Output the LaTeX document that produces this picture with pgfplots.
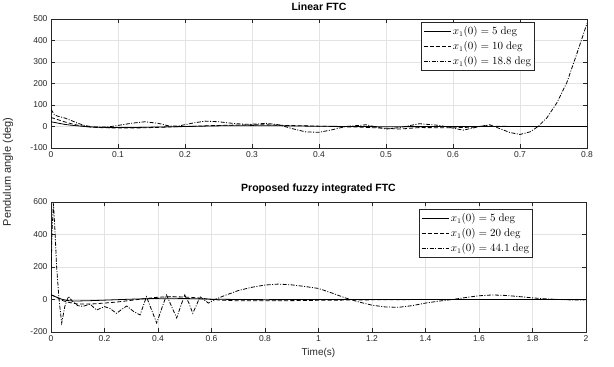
\documentclass[border=0pt]{standalone}
\usepackage[no-math]{fontspec}
\setmainfont{Liberation Sans}
\usepackage{pgfplots}
\pgfplotsset{compat=1.18}
\definecolor{axcol}{HTML}{262626}
\definecolor{gridcol}{HTML}{E3E3E3}
\tikzset{
  dashdot/.style={line width=0.8pt, dash pattern=on 4pt off 1.5pt on 1pt off 1.5pt},
  dsh/.style={line width=0.8pt, dash pattern=on 4pt off 2.2pt},
  sld/.style={line width=0.8pt}
}
\pgfplotsset{
  myax/.style={
    scale only axis,
    anchor=south west,
    axis line style={axcol, line width=0.6pt},
    grid=major,
    major grid style={gridcol, line width=0.6pt},
    tick align=inside,
    major tick length=4pt,
    tick style={axcol, line width=0.6pt},
    ticklabel style={font=\fontsize{8.5}{10}\selectfont, text=axcol},
    /pgf/number format/assume math mode=true,
    /pgf/number format/fixed,
    title style={font=\bfseries\fontsize{10.5}{12}\selectfont, yshift=-1.5pt},
    label style={font=\fontsize{10}{12}\selectfont, text=axcol},
    legend cell align=left,
    legend style={font=\fontsize{10.5}{12}\selectfont, draw=axcol, line width=0.6pt, inner xsep=1.5pt, inner ysep=2pt, row sep=1.5pt},
    legend image code/.code={\draw[#1] (0pt,0pt) -- (27pt,0pt);},
    every axis plot/.append style={black},
  }
}
\begin{document}
\begin{tikzpicture}[x=1pt,y=1pt]
\useasboundingbox (0,0) rectangle (614,367);
\begin{axis}[myax,
  at={(51pt,219pt)}, width=536pt, height=129pt,
  xmin=0, xmax=0.8, ymin=-100, ymax=500,
  xtick={0,0.1,...,0.8}, ytick={-100,0,...,500},
  xticklabels={0,0.1,0.2,0.3,0.4,0.5,0.6,0.7,0.8},
  title={Linear FTC},
  legend style={at={(0.903,0.977)}, anchor=north east},
]
\addplot[sld] coordinates {(0,22) (0.01,16) (0.02,10) (0.03,6) (0.04,3) (0.05,0) (0.06,-2) (0.08,-4) (0.1,-5) (0.12,-5) (0.15,-3) (0.2,0) (0.25,3) (0.3,4) (0.35,3) (0.4,1) (0.45,0) (0.5,-1) (0.6,0) (0.7,0) (0.8,0)};
\addlegendentry{$x_1(0) = 5\ \mathrm{deg}$}
\addplot[dsh] coordinates {(0,42) (0.01,32) (0.02,22) (0.03,13) (0.04,6) (0.05,1) (0.06,-3) (0.08,-6) (0.1,-7) (0.12,-7) (0.14,-6) (0.17,-3) (0.2,0) (0.24,4) (0.28,7) (0.32,8) (0.35,5) (0.38,3) (0.42,0) (0.46,-3) (0.5,-8) (0.52,-12) (0.55,-5) (0.6,-6) (0.63,-3) (0.65,4) (0.66,1) (0.7,0) (0.8,0)};
\addlegendentry{$x_1(0) = 10\ \mathrm{deg}$}
\addplot[dashdot] coordinates {(0,80) (0.005,55) (0.01,48) (0.02,40) (0.03,28) (0.04,15) (0.05,5) (0.06,-1) (0.07,-3) (0.08,-3) (0.09,0) (0.1,5) (0.12,15) (0.14,22) (0.16,15) (0.175,3) (0.19,2) (0.21,15) (0.23,25) (0.25,22) (0.27,15) (0.29,10) (0.31,12) (0.32,15) (0.34,8) (0.36,-10) (0.38,-25) (0.4,-27) (0.42,-15) (0.44,0) (0.47,8) (0.5,-12) (0.52,-5) (0.55,13) (0.58,5) (0.615,-17) (0.64,0) (0.655,8) (0.67,-10) (0.685,-28) (0.7,-37) (0.715,-25) (0.727,0) (0.74,40) (0.755,110) (0.77,205) (0.785,340) (0.8,480)};
\addlegendentry{$x_1(0) = 18.8\ \mathrm{deg}$}
\end{axis}
\begin{axis}[myax,
  at={(51pt,35pt)}, width=535pt, height=130pt,
  xmin=0, xmax=2, ymin=-200, ymax=600,
  xtick={0,0.2,...,2}, ytick={-200,0,...,600},
  xticklabels={0,0.2,0.4,0.6,0.8,1,1.2,1.4,1.6,1.8,2},
  title={Proposed fuzzy integrated FTC},
  xlabel={Time(s)},
  legend style={at={(0.901,0.946)}, anchor=north east},
]
\addplot[sld] coordinates {(0,28) (0.02,15) (0.04,2) (0.06,-6) (0.08,-9) (0.1,-9) (0.15,-7) (0.2,-4) (0.3,2) (0.4,7) (0.45,8) (0.5,6) (0.6,2) (0.7,0) (0.8,-1) (1.0,0) (2,0)};
\addlegendentry{$x_1(0) = 5\ \mathrm{deg}$}
\addplot[dsh] coordinates {(0,30) (0.02,15) (0.04,-5) (0.06,-15) (0.08,-22) (0.1,-28) (0.15,-28) (0.2,-22) (0.25,-15) (0.3,-5) (0.35,5) (0.4,14) (0.45,18) (0.5,15) (0.55,10) (0.6,0) (0.65,-5) (0.7,-8) (0.8,-8) (0.9,-7) (1.0,-5) (1.2,-2) (1.4,0) (2,0)};
\addlegendentry{$x_1(0) = 20\ \mathrm{deg}$}
\addplot[dashdot] coordinates {(0,140) (0.004,420) (0.009,592) (0.015,420) (0.021,202) (0.03,0) (0.04,-145) (0.052,-40) (0.065,18) (0.08,-10) (0.1,-38) (0.12,-42) (0.146,-28) (0.17,-65) (0.2,-44) (0.22,-55) (0.245,-85) (0.265,-60) (0.283,-40) (0.31,-75) (0.333,-95) (0.357,17) (0.375,-60) (0.395,-145) (0.415,-50) (0.432,28) (0.45,-40) (0.47,-114) (0.485,-40) (0.5,28) (0.515,-20) (0.53,-85) (0.545,-30) (0.557,17) (0.575,-5) (0.588,-22) (0.613,0) (0.65,25) (0.7,55) (0.75,75) (0.8,89) (0.85,95) (0.9,90) (0.95,80) (1.0,68) (1.05,40) (1.1,10) (1.15,-15) (1.2,-35) (1.25,-46) (1.3,-48) (1.35,-38) (1.4,-22) (1.45,-10) (1.5,0) (1.55,12) (1.6,23) (1.65,28) (1.7,25) (1.75,18) (1.8,10) (1.85,4) (1.9,0) (1.95,-3) (2.0,-2)};
\addlegendentry{$x_1(0) = 44.1\ \mathrm{deg}$}
\end{axis}
\node[rotate=90, font=\fontsize{11}{13}\selectfont, text=axcol] at (8,195) {Pendulum angle (deg)};
\end{tikzpicture}
\end{document}
